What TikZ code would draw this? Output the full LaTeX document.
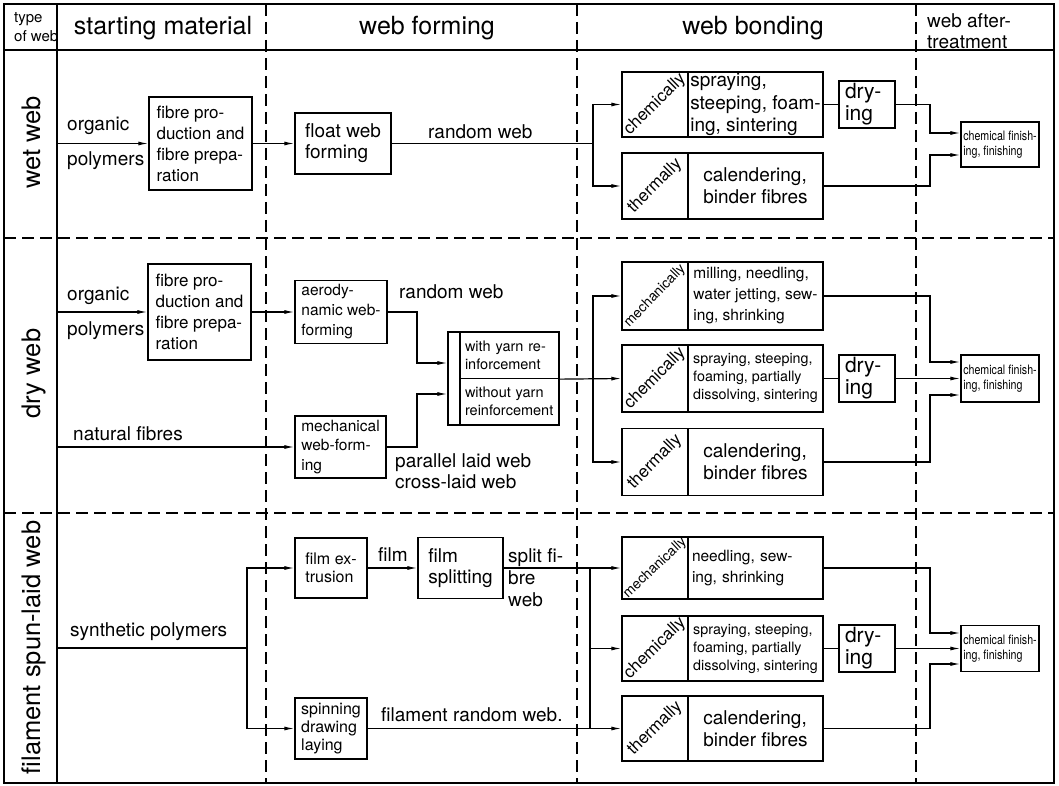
\documentclass[tikz,border=0pt]{standalone}
\usepackage{fontspec}
\setmainfont{TeX Gyre Heros}
\newfontfamily\narrowsans[FakeStretch=0.82]{TeX Gyre Heros}
\usetikzlibrary{arrows.meta}
\newcommand\fsz[2]{\fontsize{#1}{#2}\selectfont}

\tikzset{
  sep/.style={line width=1.2pt, dash pattern=on 12pt off 6pt},
  box/.style={draw, line width=1.3pt, inner sep=0pt, align=left},
  cell/.style={draw, line width=1.3pt, inner sep=0pt},
  lbl/.style={inner sep=0pt, anchor=base west, font=\fsz{19}{22}},
  diag/.style={midway, sloped, inner sep=0pt},
  conn/.style={line width=1.2pt},
  arr/.style={conn, -{Latex[length=10pt,width=4pt]}},
  side/.style={inner sep=0pt, anchor=base, rotate=90, font=\fsz{25.5}{26}},
  head/.style={inner sep=0pt, anchor=base, font=\fsz{25}{26}},
  drybox/.style={box, minimum width=56pt, minimum height=47pt, text width=44pt, inner xsep=6pt, font=\fsz{21}{22}},
  finbox/.style={box, minimum width=78pt, font=\narrowsans\fsz{13}{15}},
}

\begin{document}
\begin{tikzpicture}[x=1pt,y=-1pt]
\useasboundingbox (0,0) rectangle (1059,786);

% table frame and grid
\draw[line width=2.4pt] (4,4) rectangle (1054,783);
\draw[line width=2.2pt] (4,50) -- (1054,50);
\draw[line width=2pt] (57,4) -- (57,783);
\foreach \xx in {266,577,916} \draw[sep] (\xx,4) -- (\xx,783);
\foreach \yy in {238,513} \draw[sep] (4,\yy) -- (1054,\yy);

% column heads
\node[lbl, anchor=north west, align=left, font=\fsz{15}{18.5}] (htype) at (14,12.5) {type\\of web};
\node[head] (hsm) at (163,34.5) {starting material};
\node[head] (hwf) at (427,34.5) {web forming};
\node[head] (hwb) at (753,34.5) {web bonding};
\node[lbl, anchor=north west, align=left, font=\fsz{19}{21.5}] (hat) at (927,13) {web after-\\treatment};

% row heads
\node[side] (sw) at (40,142.5) {wet web};
\node[side] (sd) at (40,373.5) {dry web};
\node[side] (sf) at (40,647.5) {filament spun-laid web};

% ---------------- wet web ----------------
\node[box, minimum width=103pt, minimum height=93pt, font=\fsz{17}{21}] (fib1) at (200.5,143.5) {fibre pro-\\duction and\\fibre prepa-\\ration};
\node[box, minimum width=96pt, minimum height=61pt, font=\fsz{19}{21}] (flt1) at (343,143.5) {float web\\forming};
\node[cell, minimum width=66pt, minimum height=65pt] (chm1) at (655,104.5) {};
\path (chm1.south west) -- (chm1.north east) node[diag, font=\fsz{17}{17}] (chm1l) {chemically};
\node[box, minimum width=135pt, minimum height=65pt, font=\fsz{19}{22.5}] (chm1t) at (755.5,104.5) {spraying,\\steeping, foam-\\ing, sintering};
\node[cell, minimum width=66pt, minimum height=66pt] (thm1) at (655,186) {};
\path (thm1.south west) -- (thm1.north east) node[diag, font=\fsz{17}{17}] (thm1l) {thermally};
\node[box, minimum width=135pt, minimum height=66pt, font=\fsz{19}{22}] (thm1t) at (755.5,186) {calendering,\\binder fibres};
\node[drybox] (dry1) at (867,104.5) {dry-\\ing};
\node[finbox, minimum height=45pt] (fin1) at (1000,144.5) {chemical finish-\\ing, finishing};

\node[lbl] (orgw) at (67,131) {organic};
\node[lbl] (polw) at (67,165.5) {polymers};
\node[lbl] (rndw) at (428,139) {random web};

\coordinate (w0) at (57,143.5);
\coordinate (wb) at (593,143.5);
\coordinate (wj1) at (930,133);
\coordinate (wj2) at (930,155);
\draw[arr] (w0) -- (fib1.west);
\draw[arr] (fib1.east) -- (flt1.west);
\draw[conn] (flt1.east) -- (wb);
\draw[arr] (wb) |- (chm1.west);
\draw[arr] (wb) |- (thm1.west);
\draw[conn] (chm1t.east) -- (dry1.west);
\draw[arr] (dry1.east) -| (wj1) -- (wj1 -| fin1.west);
\draw[arr] (thm1t.east) -| (wj2) -- (wj2 -| fin1.west);

% ---------------- dry web ----------------
\node[box, minimum width=103pt, minimum height=96pt, font=\fsz{17}{21}] (fib2) at (199.5,312) {fibre pro-\\duction and\\fibre prepa-\\ration};
\node[box, minimum width=92pt, minimum height=63pt, font=\fsz{15.5}{20}] (aer2) at (341,312) {aerody-\\namic web-\\forming};
\node[box, minimum width=91pt, minimum height=62pt, font=\fsz{15.5}{19.5}] (mwf2) at (340.5,447) {mechanical\\web-form-\\ing};
\node[cell, minimum width=12pt, minimum height=93pt] (yst) at (454,378.5) {};
\node[box, minimum width=99pt, minimum height=46.5pt, text width=89pt, inner xsep=5pt, font=\fsz{14.5}{18}] (ywt) at (509.5,355.25) {with yarn re-\\inforcement};
\node[box, minimum width=99pt, minimum height=46.5pt, text width=89pt, inner xsep=5pt, font=\fsz{14.5}{18}] (ywo) at (509.5,401.75) {without yarn\\reinforcement};

\node[cell, minimum width=66pt, minimum height=68pt] (mch2) at (655,296) {};
\path (mch2.south west) -- (mch2.north east) node[diag, font=\fsz{14}{14}] (mch2l) {mechanically};
\node[box, minimum width=135pt, minimum height=68pt, font=\fsz{15.5}{21}] (mch2t) at (755.5,296) {milling, needling,\\water jetting, sew-\\ing, shrinking};
\node[cell, minimum width=66pt, minimum height=67pt] (chm2) at (655,378.5) {};
\path (chm2.south west) -- (chm2.north east) node[diag, font=\fsz{17}{17}] (chm2l) {chemically};
\node[box, minimum width=135pt, minimum height=67pt, font=\fsz{14.3}{18}] (chm2t) at (755.5,378.5) {spraying, steeping,\\foaming, partially\\dissolving, sintering};
\node[cell, minimum width=66pt, minimum height=67pt] (thm2) at (655,462) {};
\path (thm2.south west) -- (thm2.north east) node[diag, font=\fsz{17}{17}] (thm2l) {thermally};
\node[box, minimum width=135pt, minimum height=67pt, font=\fsz{19}{22}] (thm2t) at (755.5,462) {calendering,\\binder fibres};
\node[drybox] (dry2) at (867,378.5) {dry-\\ing};
\node[finbox, minimum height=47pt] (fin2) at (1000,378.5) {chemical finish-\\ing, finishing};

\node[lbl] (orgd) at (67,300) {organic};
\node[lbl] (pold) at (67,335) {polymers};
\node[lbl] (rndd) at (399,298.5) {random web};
\node[lbl] (natf) at (73,440) {natural fibres};
\node[lbl, anchor=north west, align=left, font=\fsz{19}{21.5}] (plw) at (395,453) {parallel laid web\\cross-laid web};

\coordinate (d0) at (57,312);
\coordinate (d3) at (57,447);
\coordinate (dja) at (417,363);
\coordinate (djm) at (417,394);
\coordinate (db) at (593,378.5);
\coordinate (dj1) at (930,362);
\coordinate (dj3) at (930,395);
\draw[arr] (d0) -- (fib2.west);
\draw[arr] (fib2.east) -- (aer2.west);
\draw[arr] (d3) -- (mwf2.west);
\draw[arr] (aer2.east) -| (dja) -- (dja -| yst.west);
\draw[arr] (mwf2.east) -| (djm) -- (djm -| yst.west);
\draw[arr] (ywt.south east) -- (chm2.west);
\draw[arr] (db) |- (mch2.west);
\draw[arr] (db) |- (thm2.west);
\draw[conn] (chm2t.east) -- (dry2.west);
\draw[arr] (dry2.east) -- (fin2.west);
\draw[arr] (mch2t.east) -| (dj1) -- (dj1 -| fin2.west);
\draw[arr] (thm2t.east) -| (dj3) -- (dj3 -| fin2.west);

% ---------------- filament spun-laid web ----------------
\node[box, minimum width=72pt, minimum height=60pt, font=\fsz{16}{18.5}] (fex3) at (331,568) {film ex-\\trusion};
\node[box, minimum width=85pt, minimum height=61pt, font=\fsz{19}{21.5}] (spl3) at (460.5,568) {film\\splitting};
\node[box, minimum width=72pt, minimum height=61pt, font=\fsz{16}{18}] (spn3) at (331,728.5) {spinning\\drawing\\laying};

\node[cell, minimum width=66pt, minimum height=62pt] (mch3) at (655,568) {};
\path (mch3.south west) -- (mch3.north east) node[diag, font=\fsz{14}{14}] (mch3l) {mechanically};
\node[box, minimum width=135pt, minimum height=62pt, text width=127pt, inner xsep=4pt, font=\fsz{15.5}{21}] (mch3t) at (755.5,568) {needling, sew-\\ing, shrinking};
\node[cell, minimum width=66pt, minimum height=65pt] (chm3) at (655,648.5) {};
\path (chm3.south west) -- (chm3.north east) node[diag, font=\fsz{17}{17}] (chm3l) {chemically};
\node[box, minimum width=135pt, minimum height=65pt, font=\fsz{14.3}{18}] (chm3t) at (755.5,648.5) {spraying, steeping,\\foaming, partially\\dissolving, sintering};
\node[cell, minimum width=66pt, minimum height=65pt] (thm3) at (655,728.5) {};
\path (thm3.south west) -- (thm3.north east) node[diag, font=\fsz{17}{17}] (thm3l) {thermally};
\node[box, minimum width=135pt, minimum height=65pt, font=\fsz{19}{22}] (thm3t) at (755.5,728.5) {calendering,\\binder fibres};
\node[drybox] (dry3) at (867,648.5) {dry-\\ing};
\node[finbox, minimum height=46pt] (fin3) at (1000,648.5) {chemical finish-\\ing, finishing};

\node[lbl] (synp) at (70,636.7) {synthetic polymers};
\node[lbl] (filmw) at (378,561) {film};
\node[lbl, anchor=north west, align=left, font=\fsz{19}{22}] (splw) at (508,548) {split fi-\\bre\\web};
\node[lbl] (frw) at (381,721.7) {filament random web.};

\coordinate (f0) at (57,648);
\coordinate (fb) at (247,648);
\coordinate (fb2) at (590,568);
\coordinate (fb3) at (590,728.5);
\coordinate (fj1) at (930,633);
\coordinate (fj3) at (930,664);
\draw[conn] (f0) -- (fb);
\draw[arr] (fb) |- (fex3.west);
\draw[arr] (fb) |- (spn3.west);
\draw[arr] (fex3.east) -- (spl3.west);
\draw[arr] (spl3.east) -- (mch3.west);
\draw[conn] (fb2) -- (fb3);
\draw[arr] (fb2 |- chm3.west) -- (chm3.west);
\draw[arr] (spn3.east) -- (thm3.west);
\draw[conn] (chm3t.east) -- (dry3.west);
\draw[arr] (dry3.east) -- (fin3.west);
\draw[arr] (mch3t.east) -| (fj1) -- (fj1 -| fin3.west);
\draw[arr] (thm3t.east) -| (fj3) -- (fj3 -| fin3.west);
\end{tikzpicture}
\end{document}
